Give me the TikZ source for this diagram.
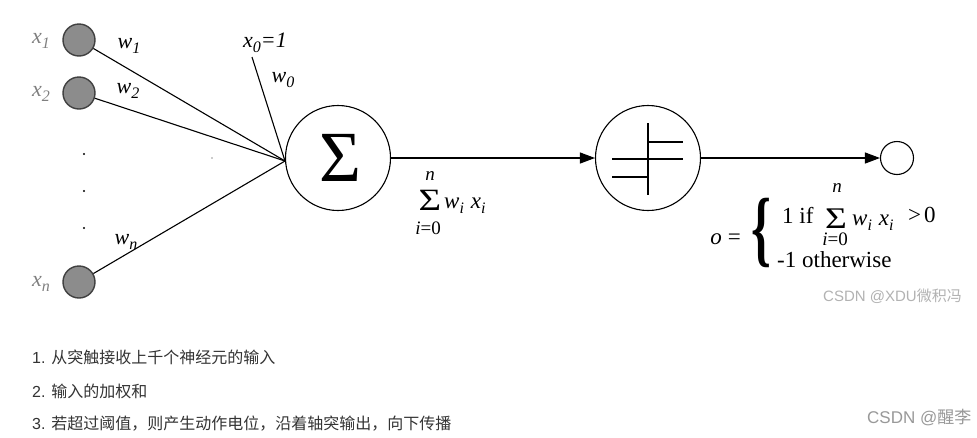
\documentclass[tikz,border=0pt]{standalone}
\usepackage{fontspec}
\setmainfont{Liberation Serif}
\newfontfamily\cjk{Noto Sans CJK SC}
\newfontfamily\sans{Liberation Sans}
\usetikzlibrary{arrows.meta}
\newcommand\isub[2]{\textit{#1}\raisebox{-0.55ex}{\fontsize{16}{16}\selectfont\textit{#2}}}
\begin{document}
\begin{tikzpicture}[x=1pt,y=-1pt,
  inp/.style={circle,draw=black!75,fill=black!45,line width=1.4pt,minimum size=32pt,inner sep=0pt},
  bigc/.style={circle,draw,line width=1.1pt,minimum size=105pt,inner sep=0pt},
  lbl/.style={font=\fontsize{22}{22}\selectfont,text=black!50,inner sep=0pt},
  wl/.style={font=\fontsize{22}{22}\selectfont,inner sep=0pt},
  conn/.style={line width=1.1pt},
  arr/.style={line width=1.1pt,-{Triangle[length=15pt,width=11pt]}},
  ft/.style={inner sep=0pt,font=\fontsize{23}{23}\selectfont},
  lim/.style={inner sep=0pt,font=\fontsize{19}{19}\selectfont},
  cn/.style={inner sep=0pt,anchor=west,font=\cjk\fontsize{16}{16}\selectfont,text=black!80}]
\useasboundingbox (0,0) rectangle (977,437);
\fill[white] (0,0) rectangle (977,437);
% inputs
\node[inp] (x1) at (79,40) {};
\node[inp] (x2) at (79,93) {};
\node[inp] (xn) at (79,282) {};
\node[lbl] (lx1) at (41,41) {\isub{x}{1}};
\node[lbl] (lx2) at (41,94) {\isub{x}{2}};
\node[lbl] (lxn) at (41,284) {\isub{x}{n}};
\fill (84,154) circle (1.2pt);
\fill (84,191) circle (1.2pt);
\fill (84,228) circle (1.2pt);
\fill[black!40] (212,158) circle (0.9pt);
% sum node
\node[bigc] (sum) at (338,158) {};
\node[inner sep=0pt,font=\fontsize{72}{72}\selectfont] (sig) at (340,158) {Σ};
\coordinate (conv) at (285,161);
\coordinate (x0e) at (252,57);
\draw[conn] (x1) -- (conv);
\draw[conn] (x2) -- (conv);
\draw[conn] (xn) -- (conv);
\draw[conn] (x0e) -- (conv);
\node[wl] (w1) at (129,46) {\isub{w}{1}};
\node[wl] (w2) at (128,91) {\isub{w}{2}};
\node[wl] (wn) at (126,242) {\isub{w}{n}};
\node[wl] (x0) at (265,43) {\isub{x}{0}\textit{=1}};
\node[wl] (w0) at (283,80) {\isub{w}{0}};
% threshold
\node[bigc] (thr) at (648,158) {};
\coordinate (v1) at (648,123);
\coordinate (v2) at (648,195);
\draw[line width=1.1pt] (v1) -- (v2);
\draw[line width=1.1pt] (612,159) -- (683,159);
\draw[line width=2.6pt] (612,177) -- (648,177) -- (648,142) -- (683,142);
\draw[arr] (sum) -- (thr);
% output
\node[circle,draw,line width=1.1pt,minimum size=33pt,inner sep=0pt] (out) at (897,158) {};
\draw[arr] (thr) -- (out);
% sum label
\node[lim,font=\itshape\fontsize{19}{19}\selectfont] (sn) at (430,176) {n};
\node[inner sep=0pt] (ss) at (430,200) {\scalebox{1.25}[1]{\fontsize{31}{31}\selectfont Σ}};
\node[lim] (si) at (428,228) {\textit{i}=0};
\node[ft,anchor=base west] (swx) at (444,208) {\isub{w}{i}\hspace{7pt}\isub{x}{i}};
% output formula
\node[ft,anchor=base east] (oeq) at (741,244) {\textit{o}\hspace{6pt}=};
\node[inner sep=0pt] (br) at (761,233) {\scalebox{0.6}[1]{\bfseries\fontsize{84}{84}\selectfont\{}};
\node[ft,anchor=base west] (one) at (782,223) {1 if};
\node[lim,font=\itshape\fontsize{19}{19}\selectfont] (on) at (837,188) {n};
\node[inner sep=0pt] (os) at (836,219) {\scalebox{1.25}[1]{\fontsize{30}{30}\selectfont Σ}};
\node[lim] (oi) at (835,239) {\textit{i}=0};
\node[ft,anchor=base west] (owx) at (852,225) {\isub{w}{i}\hspace{7pt}\isub{x}{i}};
\node[ft,anchor=base west] (ogt) at (908,222) {{>}\hspace{3pt}0};
\node[ft,anchor=base west] (oth) at (777,267) {-1 otherwise};
% watermarks
\node[inner sep=0pt,anchor=west,text=black!30] (wm1) at (823,296) {\sans\fontsize{15}{15}\selectfont CSDN @XDU\cjk 微积冯};
\node[inner sep=0pt,anchor=west,text=black!40] (wm2) at (867,418) {\sans\fontsize{17}{17}\selectfont CSDN @\cjk 醒李};
% list
\node[cn] (l1) at (32,357) {\sans 1. \cjk 从突触接收上千个神经元的输入};
\node[cn] (l2) at (32,391) {\sans 2. \cjk 输入的加权和};
\node[cn] (l3) at (32,424) {\sans 3. \cjk 若超过阈值，则产生动作电位，沿着轴突输出，向下传播};
\end{tikzpicture}
\end{document}
